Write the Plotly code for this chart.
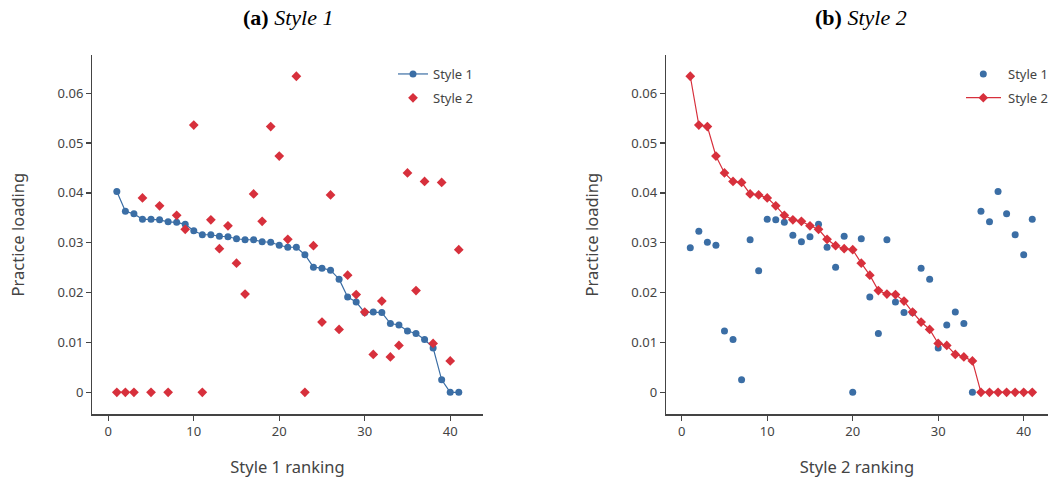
import plotly.graph_objects as go

# ---- data ----
rank = list(range(1, 42))

# Panel (a): ordered by Style 1 ranking
a_style1 = [0.0403, 0.0363, 0.0358, 0.0347, 0.0347, 0.0346, 0.0342, 0.0341, 0.0337, 0.0324,
            0.0316, 0.0316, 0.0313, 0.0312, 0.0308, 0.0306, 0.0306, 0.0302, 0.0301, 0.0295,
            0.0291, 0.0291, 0.0276, 0.0251, 0.0249, 0.0245, 0.0227, 0.0191, 0.0181, 0.0160,
            0.0161, 0.0160, 0.0138, 0.0135, 0.0123, 0.0118, 0.0106, 0.0089, 0.0025, 0.0, 0.0]
a_style2 = [0.0, 0.0, 0.0, 0.0390, 0.0, 0.0374, 0.0, 0.0355, 0.0327, 0.0536,
            0.0, 0.0346, 0.0288, 0.0334, 0.0259, 0.0197, 0.0398, 0.0343, 0.0533, 0.0474,
            0.0307, 0.0634, 0.0, 0.0294, 0.0141, 0.0396, 0.0126, 0.0235, 0.0196, 0.0161,
            0.0076, 0.0183, 0.0071, 0.0094, 0.0440, 0.0204, 0.0423, 0.0098, 0.0421, 0.0063, 0.0286]

# Panel (b): ordered by Style 2 ranking
b_style1 = [0.0290, 0.0323, 0.0301, 0.0295, 0.0123, 0.0106, 0.0025, 0.0306, 0.0244, 0.0347,
            0.0346, 0.0341, 0.0315, 0.0302, 0.0312, 0.0337, 0.0291, 0.0251, 0.0313, 0.0,
            0.0308, 0.0191, 0.0118, 0.0306, 0.0181, 0.0160, 0.0160, 0.0249, 0.0227, 0.0089,
            0.0135, 0.0161, 0.0138, 0.0, 0.0363, 0.0342, 0.0403, 0.0358, 0.0316, 0.0276, 0.0347]
b_style2 = [0.0634, 0.0536, 0.0533, 0.0474, 0.0440, 0.0423, 0.0421, 0.0398, 0.0396, 0.0390,
            0.0374, 0.0355, 0.0346, 0.0343, 0.0334, 0.0327, 0.0307, 0.0294, 0.0288, 0.0286,
            0.0259, 0.0235, 0.0204, 0.0197, 0.0196, 0.0183, 0.0161, 0.0141, 0.0126, 0.0098,
            0.0094, 0.0076, 0.0071, 0.0063, 0.0, 0.0, 0.0, 0.0, 0.0, 0.0, 0.0]

series_names = ["Style 1", "Style 2"]
x_ticks = [0, 10, 20, 30, 40]
y_ticks = [0, 0.01, 0.02, 0.03, 0.04, 0.05, 0.06]
y_ticklabels = ["0", "0.01", "0.02", "0.03", "0.04", "0.05", "0.06"]

BLUE = "#3b6ea5"
RED = "#d7303c"
TXT = "#444"
FONT = "Noto Sans"
W, H = 1048, 484


def px_x(p):
    return p / W


def px_y(p):
    return 1 - p / H


fig = go.Figure()

# Panel (a)
fig.add_trace(go.Scatter(x=rank, y=a_style1, mode="lines+markers", name=series_names[0],
                         line=dict(color=BLUE, width=1.2),
                         marker=dict(symbol="circle", size=7, color=BLUE),
                         xaxis="x", yaxis="y", legend="legend", legendgroup="a1"))
fig.add_trace(go.Scatter(x=rank, y=a_style2, mode="markers", name=series_names[1],
                         marker=dict(symbol="diamond", size=7.5, color=RED),
                         xaxis="x", yaxis="y", legend="legend", legendgroup="a2"))
# Panel (b)
fig.add_trace(go.Scatter(x=rank, y=b_style1, mode="markers", name=series_names[0],
                         marker=dict(symbol="circle", size=7, color=BLUE),
                         xaxis="x2", yaxis="y2", showlegend=False))
fig.add_trace(go.Scatter(x=rank, y=b_style2, mode="lines+markers", name=series_names[1],
                         line=dict(color=RED, width=1.2),
                         marker=dict(symbol="diamond", size=7.5, color=RED),
                         xaxis="x2", yaxis="y2", showlegend=False))

ydom = [px_y(414.3), px_y(55)]
yrange = [(392.3 - 414.3) / 4985, (392.3 - 55) / 4985]

axis_common = dict(showline=True, linecolor=TXT, linewidth=1.3, ticks="outside",
                   ticklen=5, tickwidth=1.2, tickcolor=TXT, showgrid=False, zeroline=False,
                   tickfont=dict(family=FONT, size=13, color=TXT))
title_font = dict(size=16.5, family=FONT, color=TXT)

fig.update_layout(
    width=W, height=H,
    margin=dict(l=0, r=0, t=0, b=0, autoexpand=False),
    paper_bgcolor="white", plot_bgcolor="white",
    font=dict(family=FONT, color=TXT),
    xaxis=dict(domain=[px_x(92.3), px_x(482.7)], range=[-1.87, 43.8], tickvals=x_ticks,
               anchor="y", title=dict(text="Style 1 ranking", font=title_font, standoff=22),
               **axis_common),
    yaxis=dict(domain=ydom, range=yrange, tickvals=y_ticks, ticktext=y_ticklabels, anchor="x",
               title=dict(text="Practice loading", font=title_font, standoff=28),
               **axis_common),
    xaxis2=dict(domain=[px_x(666), 1.0], range=[-1.84, (1048 - 681.7) / 8.55], tickvals=x_ticks,
                anchor="y2", title=dict(text="Style 2 ranking", font=title_font, standoff=22),
                **axis_common),
    yaxis2=dict(domain=ydom, range=yrange, tickvals=y_ticks, ticktext=y_ticklabels, anchor="x2",
                title=dict(text="Practice loading", font=title_font, standoff=28),
                **axis_common),
    legend=dict(x=393 / W, y=1 - 59 / H, xanchor="left", yanchor="top",
                bgcolor="rgba(0,0,0,0)", font=dict(family=FONT, size=13, color=TXT),
                traceorder="grouped", tracegroupgap=4),
    showlegend=True,
    hovermode=False,
)

# Legend for panel (b), drawn by hand at the right edge like the reference
r1y, r2y, mx = 74, 97.7, 983.3
fig.add_shape(type="line", xref="paper", yref="paper", x0=px_x(966), x1=px_x(1001),
              y0=px_y(r2y), y1=px_y(r2y), line=dict(color=RED, width=1.2))
fig.add_shape(type="circle", xref="paper", yref="paper", x0=px_x(mx - 3.5), x1=px_x(mx + 3.5),
              y0=px_y(r1y + 3.5), y1=px_y(r1y - 3.5), fillcolor=BLUE, line=dict(width=0))
d = 4.8
fig.add_shape(type="path", xref="paper", yref="paper",
              path=(f"M {px_x(mx - d)} {px_y(r2y)} L {px_x(mx)} {px_y(r2y - d)} "
                    f"L {px_x(mx + d)} {px_y(r2y)} L {px_x(mx)} {px_y(r2y + d)} Z"),
              fillcolor=RED, line=dict(width=0))
for name, ry in zip(series_names, [r1y, r2y]):
    fig.add_annotation(text=name, x=px_x(1006), y=px_y(ry), xref="paper", yref="paper",
                       showarrow=False, xanchor="left", yanchor="middle",
                       font=dict(family=FONT, size=13, color=TXT))

fig.add_annotation(text="<b>(a)</b> <i>Style 1</i>", x=px_x(287.5), y=px_y(18),
                   xref="paper", yref="paper", showarrow=False, xanchor="center", yanchor="middle",
                   borderpad=0, font=dict(family="Liberation Serif", size=22, color="black"))
fig.add_annotation(text="<b>(b)</b> <i>Style 2</i>", x=px_x(861), y=px_y(18),
                   xref="paper", yref="paper", showarrow=False, xanchor="center", yanchor="middle",
                   borderpad=0, font=dict(family="Liberation Serif", size=22, color="black"))

fig.write_html("out.html", config={"displayModeBar": False, "staticPlot": True},
               post_script="document.body.style.margin='0';document.body.style.overflow='hidden';")
